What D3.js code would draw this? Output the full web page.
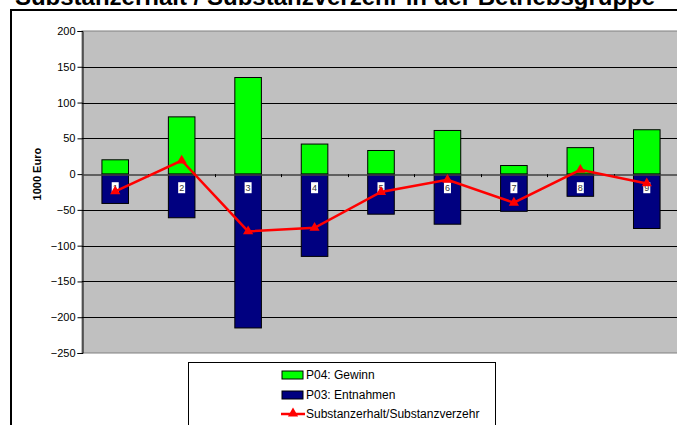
<!DOCTYPE html>
<html><head><meta charset="utf-8">
<script src="https://cdn.jsdelivr.net/npm/d3@7"></script>
<style>
html,body{margin:0;padding:0;background:#fff;overflow:hidden;}
svg{display:block;font-family:Arial,"Liberation Sans",sans-serif;}
</style></head>
<body>
<svg id="c" width="677" height="425"></svg>
<script>
const categories = ["1","2","3","4","5","6","7","8","9"];
const gewinn = [20, 80, 135, 42, 33, 61, 12, 37, 62];
const entnahmen = [-41, -61, -215, -115, -56, -70, -52, -31, -76];
const substanz = [-24, 19, -80, -75, -25, -8, -40, 6, -13];
const yTicks = [200, 150, 100, 50, 0, -50, -100, -150, -200, -250];
const labelPos = [-19, -19, -19, -19, -19, -19, -19, -19, -19];
const titleText = "Substanzerhalt / Substanzverzehr in der Betriebsgruppe";
const yTitle = "1000 Euro";
const legendItems = ["P04: Gewinn", "P03: Entnahmen", "Substanzerhalt/Substanzverzehr"];

const svg = d3.select("#c");
const L = 82, R = 680, T = 31, B = 353;

// title (cut off at the top, as in the reference)
svg.append("text").attr("x", 335).attr("y", 5).attr("text-anchor", "middle")
  .attr("font-size", 24).attr("font-weight", "bold").attr("fill", "#000").text(titleText);

// chart frame
svg.append("rect").attr("x", 11).attr("y", 10).attr("width", 700).attr("height", 430)
  .attr("fill", "none").attr("stroke", "#000").attr("stroke-width", 2);

const x = d3.scaleBand().domain(categories).range([L, R]).paddingInner(0.6).paddingOuter(0.3);
const xb = d3.scaleBand().domain(categories).range([L, R]);
const y = d3.scaleLinear().domain([-250, 200]).range([B, T]);

// plot area
svg.append("rect").attr("x", L).attr("y", T).attr("width", R - L).attr("height", B - T)
  .attr("fill", "#C0C0C0").attr("stroke", "#808080").attr("stroke-width", 1);

// gridlines
svg.append("g").selectAll("line").data(yTicks.filter(d => d !== 200 && d !== -250 && d !== 0))
  .join("line").attr("x1", L).attr("x2", R)
  .attr("y1", d => Math.round(y(d)) + 0.5).attr("y2", d => Math.round(y(d)) + 0.5)
  .attr("stroke", "#000").attr("stroke-width", 1);

// y axis
const yAxis = d3.axisLeft(y).tickValues(yTicks).tickSize(5).tickFormat(d3.format("d"));
const gy = svg.append("g").attr("transform", `translate(${L + 0.5},0)`).call(yAxis);
gy.select(".domain").attr("stroke", "#000");
gy.selectAll(".tick line").attr("stroke", "#000");
gy.selectAll(".tick text").attr("font-size", 11).attr("font-family", "Arial, 'Liberation Sans', sans-serif")
  .attr("fill", "#000").attr("x", -7);

// y title
svg.append("text").attr("transform", `translate(41,${y(0)}) rotate(-90)`)
  .attr("text-anchor", "middle").attr("font-size", 11).attr("font-weight", "bold").text(yTitle);

// bars
svg.append("g").selectAll("rect").data(gewinn).join("rect")
  .attr("x", (d, i) => x(categories[i])).attr("width", x.bandwidth())
  .attr("y", d => y(d)).attr("height", d => y(0) - y(d))
  .attr("fill", "#00FF00").attr("stroke", "#000").attr("stroke-width", 1);
svg.append("g").selectAll("rect").data(entnahmen).join("rect")
  .attr("x", (d, i) => x(categories[i])).attr("width", x.bandwidth())
  .attr("y", y(0)).attr("height", d => y(d) - y(0))
  .attr("fill", "#000080").attr("stroke", "#000").attr("stroke-width", 1);

// x axis at zero
const xAxis = d3.axisBottom(xb).tickSize(0).tickFormat("");
const gx = svg.append("g").attr("transform", `translate(0,${Math.round(y(0)) + 0.5})`).call(xAxis);
gx.select(".domain").attr("stroke", "#404040").attr("stroke-width", 1.5);
svg.append("g").selectAll("line").data(categories.slice(1)).join("line")
  .attr("x1", d => Math.round(xb(d)) + 0.5).attr("x2", d => Math.round(xb(d)) + 0.5)
  .attr("y1", y(0)).attr("y2", y(0) + 3).attr("stroke", "#000");

// category labels
const lab = svg.append("g").selectAll("g").data(categories).join("g")
  .attr("transform", (d, i) => `translate(${x(d) + x.bandwidth() / 2},${y(labelPos[i])})`);
lab.append("rect").attr("x", -3.5).attr("y", -5.5).attr("width", 7).attr("height", 11).attr("fill", "#fff");
lab.append("text").attr("text-anchor", "middle").attr("dy", "0.35em").attr("font-size", 9)
  .attr("fill", "#333").text(d => d);

// line
const cx = (d, i) => x(categories[i]) + x.bandwidth() / 2;
const line = d3.line().x(cx).y(d => y(d));
svg.append("path").datum(substanz).attr("d", line).attr("fill", "none")
  .attr("stroke", "#FF0000").attr("stroke-width", 2.5);
const tri = d3.symbol().type(d3.symbolTriangle).size(45);
svg.append("g").selectAll("path").data(substanz).join("path")
  .attr("transform", (d, i) => `translate(${cx(d, i)},${y(d)})`).attr("d", tri).attr("fill", "#FF0000");

// legend
svg.append("rect").attr("x", 188.5).attr("y", 362.5).attr("width", 307).attr("height", 80)
  .attr("fill", "#fff").attr("stroke", "#000").attr("stroke-width", 1);
const ly = [375, 395, 414];
const lg = svg.append("g");
lg.append("rect").attr("x", 282).attr("y", ly[0] - 4).attr("width", 21).attr("height", 8)
  .attr("fill", "#00FF00").attr("stroke", "#000");
lg.append("rect").attr("x", 282).attr("y", ly[1] - 4).attr("width", 21).attr("height", 8)
  .attr("fill", "#000080").attr("stroke", "#000");
lg.append("line").attr("x1", 281).attr("x2", 305).attr("y1", ly[2]).attr("y2", ly[2])
  .attr("stroke", "#FF0000").attr("stroke-width", 2.5);
lg.append("path").attr("transform", `translate(293,${ly[2] - 0.5})`).attr("d", tri).attr("fill", "#FF0000");
lg.selectAll("text").data(legendItems).join("text")
  .attr("x", 306).attr("y", (d, i) => ly[i]).attr("dy", "0.35em")
  .attr("font-size", 12).attr("fill", "#000").text(d => d);
</script>
</body></html>
